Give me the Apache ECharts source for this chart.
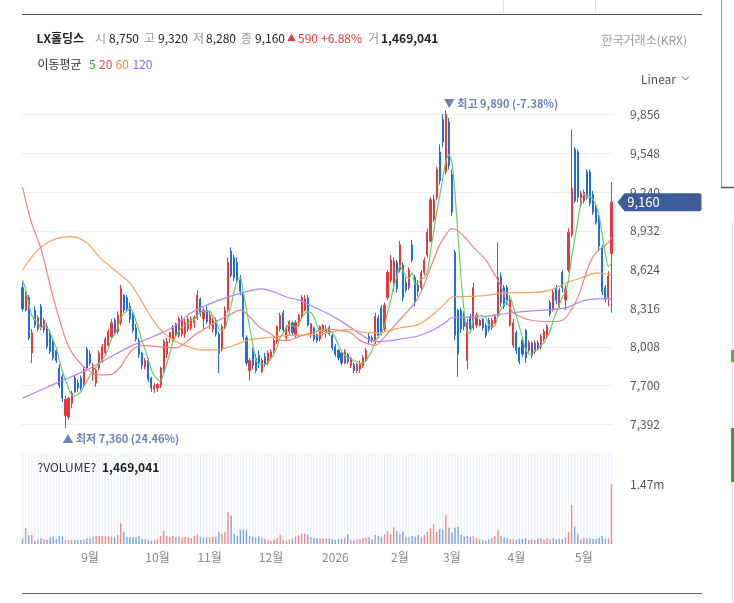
<!DOCTYPE html>
<html><head><meta charset="utf-8">
<script src="https://cdn.jsdelivr.net/npm/echarts@6/dist/echarts.min.js"></script>
<style>html,body{margin:0;padding:0;background:#fff}#main{width:734px;height:603px}</style>
</head><body><div id="main"></div>
<script>
// ---- trading days (categories) ----
const monthDays = [
  ['2025-07', [30, 31]],
  ['2025-08', [1, 4, 5, 6, 7, 8, 11, 12, 13, 14, 18, 19, 20, 21, 22, 25, 26, 27, 28, 29]],
  ['2025-09', [1, 2, 3, 4, 5, 8, 9, 10, 11, 12, 15, 16, 17, 18, 19, 22, 23, 24, 25, 26, 29, 30]],
  ['2025-10', [1, 2, 13, 14, 15, 16, 17, 20, 21, 22, 23, 24, 27, 28, 29, 30, 31]],
  ['2025-11', [3, 4, 5, 6, 7, 10, 11, 12, 13, 14, 17, 18, 19, 20, 21, 24, 25, 26, 27, 28]],
  ['2025-12', [1, 2, 3, 4, 5, 8, 9, 10, 11, 12, 15, 16, 17, 18, 19, 22, 23, 24, 26, 29, 30]],
  ['2026-01', [2, 5, 6, 7, 8, 9, 12, 13, 14, 15, 16, 19, 20, 21, 22, 23, 26, 27, 28, 29, 30]],
  ['2026-02', [2, 3, 4, 5, 6, 9, 10, 11, 12, 13, 19, 20, 23, 24, 25, 26, 27]],
  ['2026-03', [3, 4, 5, 6, 9, 10, 11, 12, 13, 16, 17, 18, 19, 20, 23, 24, 25, 26, 27, 30, 31]],
  ['2026-04', [1, 2, 3, 6, 7, 8, 9, 10, 13, 14, 15, 16, 17, 20, 21, 22, 23, 24, 27, 28, 29, 30]],
  ['2026-05', [4, 6, 7, 8, 11, 12, 13, 14, 15, 18]]
];

// ---- OHLC ----
const opens = [
  8480,8300,8400,7960,8300,8150,8330,8140,8170,8120,
  8060,7980,7840,7770,7460,7450,7560,7760,7720,7760,
  7700,7990,7950,7790,7720,7840,7900,7960,8020,8090,
  8220,8130,8200,8420,8400,8330,8260,8160,8060,7960,
  7850,7900,7760,7670,7680,7700,7830,7950,8080,8070,
  8190,8100,8110,8110,8150,8160,8200,8240,8390,8230,
  8300,8190,8150,8220,8110,7990,8170,8300,8770,8720,
  8680,8540,8440,8080,7820,7980,7920,7940,7810,7930,
  7880,7930,7980,8050,8150,8280,8080,8130,8200,8100,
  8190,8250,8300,8400,8110,8160,8100,8070,8130,8120,
  8160,8100,8010,7980,7960,7880,7950,7860,7870,7820,
  7830,7860,7910,8090,8080,8050,8240,8320,8150,8400,
  8540,8500,8680,8620,8660,8520,8480,8820,8560,8500,
  8480,8600,8740,8850,9020,9200,9560,9820,9400,9800,
  9380,8760,8300,8300,8270,7900,8250,8160,8180,8180,
  8230,8180,8220,8160,8200,8250,8570,8480,8480,8180,
  8020,8120,8000,8060,8140,7980,8040,7970,8040,8010,
  8070,8100,8360,8310,8480,8340,8600,8380,8620,8900,
  9580,9560,9140,9170,9400,9400,9220,9120,9040,8800,
  8480,8400,8750
];
const highs = [
  8520,8450,8420,8150,8330,8260,8350,8240,8200,8140,
  8080,8000,7870,7790,7620,7610,7660,7780,7750,7780,
  7850,8010,7980,7880,7840,7980,8030,8090,8150,8230,
  8240,8290,8500,8430,8420,8360,8280,8190,8080,7970,
  7920,7920,7770,7720,7720,7850,8070,8080,8130,8180,
  8200,8250,8260,8230,8250,8250,8260,8460,8400,8320,
  8330,8290,8240,8240,8130,8190,8330,8720,8800,8740,
  8720,8580,8450,8100,7920,8000,7950,7980,7920,7960,
  7980,7990,8080,8180,8280,8300,8180,8220,8210,8220,
  8270,8420,8420,8420,8200,8170,8120,8180,8190,8180,
  8180,8110,8030,7990,7970,7990,7960,7930,7880,7880,
  7900,7940,8000,8120,8100,8280,8260,8340,8360,8620,
  8740,8720,8700,8850,8680,8560,8640,8860,8580,8540,
  8620,8720,8950,9200,9220,9440,9620,9860,9890,9830,
  9420,8780,8310,8320,8290,8230,8270,8520,8280,8230,
  8240,8200,8240,8240,8270,8840,8600,8500,8500,8420,
  8230,8140,8010,8080,8150,8060,8050,8060,8060,8110,
  8150,8190,8380,8460,8500,8480,8620,8500,8950,9740,
  9600,9580,9250,9260,9420,9420,9250,9140,9060,8820,
  8500,8610,9320
];
const lows = [
  8290,8290,8060,7880,8160,8130,8140,8120,7990,7950,
  7900,7880,7680,7570,7360,7430,7520,7640,7650,7660,
  7690,7820,7860,7740,7690,7820,7880,7940,8000,8070,
  8100,8110,8180,8280,8290,8200,8120,8050,7920,7830,
  7830,7730,7650,7640,7650,7680,7800,7920,8040,8050,
  8090,8080,8090,8080,8130,8140,8160,8220,8250,8150,
  8190,8150,8120,8090,7800,7970,8150,8280,8560,8530,
  8520,8420,8060,7860,7740,7830,7800,7840,7800,7850,
  7860,7900,7960,8030,8130,8120,8060,8100,8100,8080,
  8170,8230,8290,8170,8080,8050,8040,8050,8100,8080,
  8100,7980,7930,7900,7860,7870,7870,7840,7800,7800,
  7800,7840,7890,8030,8040,8030,8080,8100,8130,8380,
  8520,8450,8440,8600,8370,8440,8460,8680,8330,8410,
  8460,8580,8720,8840,9000,9180,9300,9600,9380,9420,
  9050,8060,7770,8120,8140,7830,8120,8140,8160,8170,
  8140,8080,8130,8140,8190,8240,8330,8310,8340,8170,
  8000,7950,7870,7930,7880,7960,7920,7950,7980,7990,
  8050,8080,8250,8290,8350,8320,8440,8300,8600,8880,
  9150,9160,9120,9150,9180,9130,9060,8980,8780,8420,
  8360,8330,8280
];
const closes = [
  8310,8420,8080,8120,8180,8240,8160,8220,8010,7970,
  7920,7900,7700,7600,7590,7600,7640,7650,7680,7680,
  7830,7840,7880,7860,7820,7960,8010,8070,8130,8200,
  8120,8260,8470,8300,8310,8230,8140,8070,7950,7860,
  7900,7750,7680,7700,7710,7840,8050,8050,8120,8160,
  8100,8230,8220,8200,8230,8230,8240,8420,8280,8300,
  8210,8260,8220,8110,7960,8170,8300,8680,8580,8560,
  8540,8450,8090,7880,7900,7860,7820,7880,7900,7870,
  7960,7970,8060,8170,8260,8140,8160,8210,8120,8200,
  8260,8400,8390,8180,8190,8070,8060,8170,8180,8150,
  8110,8000,7950,7920,7880,7970,7890,7920,7820,7870,
  7880,7920,7980,8060,8060,8250,8100,8120,8340,8600,
  8700,8690,8470,8820,8400,8460,8620,8700,8360,8450,
  8600,8700,8920,9180,9180,9420,9330,9640,9860,9450,
  9080,8100,7950,8150,8170,8200,8150,8480,8260,8220,
  8160,8100,8150,8220,8250,8560,8360,8330,8370,8380,
  8200,7980,7890,7950,7920,8040,7940,8040,8000,8090,
  8130,8170,8270,8440,8380,8460,8480,8470,8920,9270,
  9170,9200,9230,9240,9200,9150,9080,9000,8810,8450,
  8390,8570,9160
];
const volumes = [
  130000,390000,220000,220000,80000,100000,140000,120000,100000,160000,
  180000,120000,200000,190000,100000,100000,90000,100000,100000,100000,
  120000,140000,130000,180000,200000,200000,200000,190000,190000,180000,
  170000,220000,510000,300000,180000,170000,170000,160000,190000,130000,
  120000,100000,80000,100000,120000,200000,320000,200000,180000,200000,
  170000,180000,160000,170000,160000,150000,200000,240000,170000,160000,
  160000,170000,180000,170000,300000,250000,300000,780000,700000,250000,
  200000,350000,360000,340000,200000,170000,150000,180000,150000,130000,
  100000,80000,120000,150000,220000,100000,80000,120000,140000,180000,
  220000,250000,250000,220000,170000,150000,150000,130000,140000,130000,
  140000,130000,100000,120000,130000,150000,240000,100000,90000,110000,
  120000,150000,160000,170000,120000,220000,200000,180000,240000,320000,
  250000,410000,320000,250000,300000,180000,160000,200000,170000,220000,
  180000,220000,300000,400000,490000,300000,370000,350000,710000,400000,
  280000,400000,420000,220000,180000,200000,170000,200000,150000,120000,
  100000,80000,120000,150000,200000,340000,200000,160000,150000,120000,
  120000,100000,130000,120000,140000,100000,120000,100000,130000,140000,
  120000,140000,120000,150000,120000,130000,120000,160000,290000,960000,
  430000,250000,120000,150000,140000,140000,130000,120000,150000,200000,
  120000,130000,1469041
];

// ---- moving averages: [bar index, value] ----
const ma5Lead = [8540, 8470, 8350, 8260];
const ma20Pts = [[0,9280],[3,8990],[6,8790],[10,8400],[13,8150],[15,8010],[18,7900],[21,7830],[25,7785],[29,7790],[32,7850],[34,7930],[36,7990],[39,8020],[44,8010],[50,8000],[53,8040],[56,8100],[60,8160],[64,8220],[68,8270],[71,8300],[74,8250],[77,8170],[81,8110],[84,8060],[87,8060],[90,8090],[94,8120],[97,8140],[100,8150],[103,8140],[107,8120],[110,8060],[113,8030],[115,8020],[117,8060],[121,8170],[124,8250],[129,8400],[133,8640],[136,8820],[138,8900],[140,8950],[142,8930],[145,8860],[147,8800],[151,8700],[153,8620],[156,8490],[158,8360],[160,8280],[163,8240],[166,8220],[170,8210],[173,8210],[176,8220],[178,8270],[181,8400],[183,8540],[185,8680],[187,8760],[189,8800],[191,8840],[192,8880]];
const ma60Pts = [[0,8620],[5,8780],[10,8860],[16,8885],[21,8835],[25,8725],[31,8600],[35,8515],[38,8405],[41,8280],[45,8145],[49,8065],[54,8010],[58,7985],[62,7985],[65,7990],[71,8040],[74,8065],[81,8085],[87,8100],[94,8105],[100,8120],[103,8140],[107,8145],[110,8130],[113,8120],[116,8120],[120,8140],[123,8160],[129,8185],[134,8270],[138,8360],[140,8405],[146,8410],[150,8415],[159,8440],[166,8440],[172,8460],[177,8515],[183,8565],[187,8595],[190,8590],[192,8580]];
const ma120Pts = [[0,7600],[6,7665],[12,7730],[21,7825],[27,7905],[35,8010],[42,8085],[49,8165],[55,8280],[62,8360],[69,8420],[75,8460],[78,8470],[82,8445],[86,8405],[90,8380],[95,8325],[99,8280],[103,8225],[108,8145],[112,8080],[115,8050],[119,8055],[123,8070],[127,8085],[129,8095],[134,8145],[138,8205],[140,8240],[150,8248],[159,8278],[166,8295],[171,8302],[177,8318],[181,8358],[184,8382],[188,8390],[192,8390]];

// ---------------------------------------------------------------
const FONT = "'Noto Sans CJK KR', 'Noto Sans', sans-serif";
const UP = '#e23a3f', DOWN = '#1e6fd8';
const UPV = '#f08a8e', DOWNV = '#73a8e8';
const C5 = '#6fc96a', C20 = '#ef8585', C60 = '#f4a35b', C120 = '#b185f0';
const fmt = n => n.toLocaleString('en-US');

const dates = [];
monthDays.forEach(([m, ds]) => ds.forEach(d => dates.push(m + '-' + String(d).padStart(2, '0'))));
const N = dates.length, last = N - 1;
const kData = dates.map((d, i) => [opens[i], closes[i], lows[i], highs[i]]);
const ma5 = closes.map((c, i) => i < 4 ? ma5Lead[i] : Math.round((closes[i] + closes[i-1] + closes[i-2] + closes[i-3] + closes[i-4]) / 5));
const toPts = pts => pts.map(([i, v]) => [dates[i], v]);
const lastClose = closes[last], prevClose = closes[last - 1];
const chg = lastClose - prevClose;
const pct = chg / prevClose * 100;
const maxHigh = Math.max(...highs), minLow = Math.min(...lows);
const maxPct = (lastClose - maxHigh) / maxHigh * 100;
const minPct = (lastClose - minLow) / minLow * 100;

const chart = echarts.init(document.getElementById('main'));

function txt(x, y, text, opt) {
  return { type: 'text', x: x, y: y, z: 100, silent: true,
    style: Object.assign({ text: text, fill: '#222', fontSize: 12, fontFamily: FONT, align: 'left', verticalAlign: 'middle' }, opt || {}) };
}
function line(x1, y1, x2, y2, stroke, w) {
  return { type: 'line', z: 100, silent: true, shape: { x1: x1, y1: y1, x2: x2, y2: y2 }, style: { stroke: stroke, lineWidth: w || 1 } };
}

const graphics = [
  line(22, 14.5, 702, 14.5, '#555'),
  line(22, 593.5, 702, 593.5, '#666'),
  line(503.5, 0, 503.5, 13, '#e2e2e2'),
  line(595.5, 0, 595.5, 13, '#e2e2e2'),
  line(721.5, 0, 721.5, 187, '#999'),
  line(721, 187.5, 734, 187.5, '#555', 1.5),
  line(732.5, 222, 732.5, 603, '#ddd'),
  { type: 'rect', z: 100, silent: true, shape: { x: 731, y: 350, width: 3, height: 12 }, style: { fill: '#5bb04f' } },
  { type: 'rect', z: 100, silent: true, shape: { x: 731, y: 428, width: 3, height: 54 }, style: { fill: '#3d9b3d' } },
  // header row 1
  txt(36.5, 38, 'LX홀딩스', { fontWeight: 'bold' }),
  txt(95, 38, '시', { fill: '#999' }),
  txt(109, 38, fmt(opens[last])),
  txt(144, 38, '고', { fill: '#999' }),
  txt(158, 38, fmt(highs[last])),
  txt(193, 38, '저', { fill: '#999' }),
  txt(206, 38, fmt(lows[last])),
  txt(241, 38, '종', { fill: '#999' }),
  txt(255, 38, fmt(lastClose)),
  txt(287, 38, chg >= 0 ? '▲' : '▼', { fill: UP, fontSize: 9 }),
  txt(298, 38, fmt(Math.abs(chg)), { fill: UP }),
  txt(321, 38, (chg >= 0 ? '+' : '') + pct.toFixed(2) + '%', { fill: UP }),
  txt(368, 38, '거', { fill: '#999' }),
  txt(381, 38, fmt(volumes[last]), { fontWeight: 'bold' }),
  txt(601.5, 40, '한국거래소(KRX)', { fill: '#999' }),
  // header row 2
  txt(37.5, 64, '이동평균', { fill: '#333' }),
  txt(89, 64, '5', { fill: '#2fae2f' }),
  txt(99, 64, '20', { fill: '#e8474c' }),
  txt(115.5, 64, '60', { fill: '#ef8a2c' }),
  txt(132.5, 64, '120', { fill: '#9060e0' }),
  // scale toggle
  txt(641, 79, 'Linear', { fill: '#555' }),
  { type: 'polyline', z: 100, silent: true, shape: { points: [[682, 76.5], [685.5, 80], [689, 76.5]] }, style: { stroke: '#666', lineWidth: 1, fill: null } },
  // volume title
  txt(37.5, 467, '?VOLUME?', { fill: '#333' }),
  txt(102, 467, fmt(volumes[last]), { fontWeight: 'bold' })
];

const option = {
  animation: false,
  backgroundColor: '#fff',
  textStyle: { fontFamily: FONT },
  graphic: { elements: graphics },
  grid: [
    { left: 21, right: 121, top: 76, height: 387 },
    { left: 21, right: 121, top: 453, height: 91 }
  ],
  xAxis: [
    { type: 'category', gridIndex: 0, data: dates, boundaryGap: true,
      axisLine: { show: false }, axisTick: { show: false }, axisLabel: { show: false }, splitLine: { show: false } },
    { type: 'category', gridIndex: 1, data: dates, boundaryGap: true,
      axisLine: { show: false }, axisTick: { show: false }, splitLine: { show: false },
      axisLabel: {
        color: '#888', fontSize: 12, margin: 7, fontFamily: FONT,
        interval: (idx) => idx >= 5 && dates[idx].slice(0, 7) !== dates[idx - 1].slice(0, 7),
        formatter: (v) => v.slice(5, 7) === '01' ? v.slice(0, 4) : parseInt(v.slice(5, 7), 10) + '월'
      } }
  ],
  yAxis: [
    { type: 'value', gridIndex: 0, position: 'right', min: 7084, max: 10164, interval: 308, scale: true,
      axisLine: { show: false }, axisTick: { show: false },
      axisLabel: { color: '#555', fontSize: 12, margin: 17, showMinLabel: false, showMaxLabel: false, formatter: v => fmt(v), fontFamily: FONT },
      splitLine: { show: true, showMinLine: false, showMaxLine: false, lineStyle: { color: '#efefef', width: 1 } } },
    { type: 'value', gridIndex: 1, position: 'right', min: 0, max: 2240000, interval: volumes[last],
      axisLine: { show: false }, axisTick: { show: false }, splitLine: { show: false },
      axisLabel: { color: '#555', fontSize: 12, margin: 17, showMinLabel: false, showMaxLabel: false,
        formatter: v => (v / 1e6).toFixed(2) + 'm', fontFamily: FONT } }
  ],
  series: [
    { name: 'K', type: 'candlestick', xAxisIndex: 0, yAxisIndex: 0, data: kData, barWidth: 1.6, z: 2,
      itemStyle: { color: UP, color0: DOWN, borderColor: UP, borderColor0: DOWN, borderWidth: 1 },
      markPoint: {
        animation: false,
        symbol: 'circle', symbolSize: 0,
        data: [
          { type: 'max', valueDim: 'highest',
            label: { show: true, position: [-2, -12], color: '#7083b6', fontSize: 11, fontWeight: 'bold', fontFamily: FONT,
              formatter: () => '▼ 최고 ' + fmt(maxHigh) + ' (' + maxPct.toFixed(2) + '%)' } },
          { type: 'min', valueDim: 'lowest',
            label: { show: true, position: [-3, 5], color: '#7083b6', fontSize: 11, fontWeight: 'bold', fontFamily: FONT,
              formatter: () => '▲ 최저 ' + fmt(minLow) + ' (' + minPct.toFixed(2) + '%)' } },
          { name: 'last', coord: [dates[last], lastClose],
            symbol: 'path://M0,9L7,0L82,0Q84,0,84,2L84,16Q84,18,82,18L7,18Z',
            symbolSize: [84, 18], symbolOffset: [48, 0],
            itemStyle: { color: '#3d5a99' },
            label: { show: true, position: 'inside', offset: [-16, 0], color: '#fff', fontSize: 13, fontFamily: FONT,
              formatter: () => fmt(lastClose) } }
        ]
      } },
    { name: 'MA120', type: 'line', xAxisIndex: 0, yAxisIndex: 0, data: toPts(ma120Pts), smooth: 0.35, showSymbol: false,
      lineStyle: { color: C120, width: 1.2 }, z: 3, silent: true },
    { name: 'MA60', type: 'line', xAxisIndex: 0, yAxisIndex: 0, data: toPts(ma60Pts), smooth: 0.35, showSymbol: false,
      lineStyle: { color: C60, width: 1.2 }, z: 3, silent: true },
    { name: 'MA20', type: 'line', xAxisIndex: 0, yAxisIndex: 0, data: toPts(ma20Pts), smooth: 0.35, showSymbol: false,
      lineStyle: { color: C20, width: 1.2 }, z: 3, silent: true },
    { name: 'MA5', type: 'line', xAxisIndex: 0, yAxisIndex: 0, data: ma5, smooth: 0.2, showSymbol: false,
      lineStyle: { color: C5, width: 1.2 }, z: 3, silent: true },
    { name: 'VOL', type: 'bar', xAxisIndex: 1, yAxisIndex: 1, barWidth: 1.4,
      showBackground: true, backgroundStyle: { color: '#edf1f8' },
      data: volumes.map((v, i) => ({ value: v, itemStyle: { color: closes[i] >= opens[i] ? UPV : DOWNV } })) }
  ]
};
chart.setOption(option);
</script>
</body></html>
